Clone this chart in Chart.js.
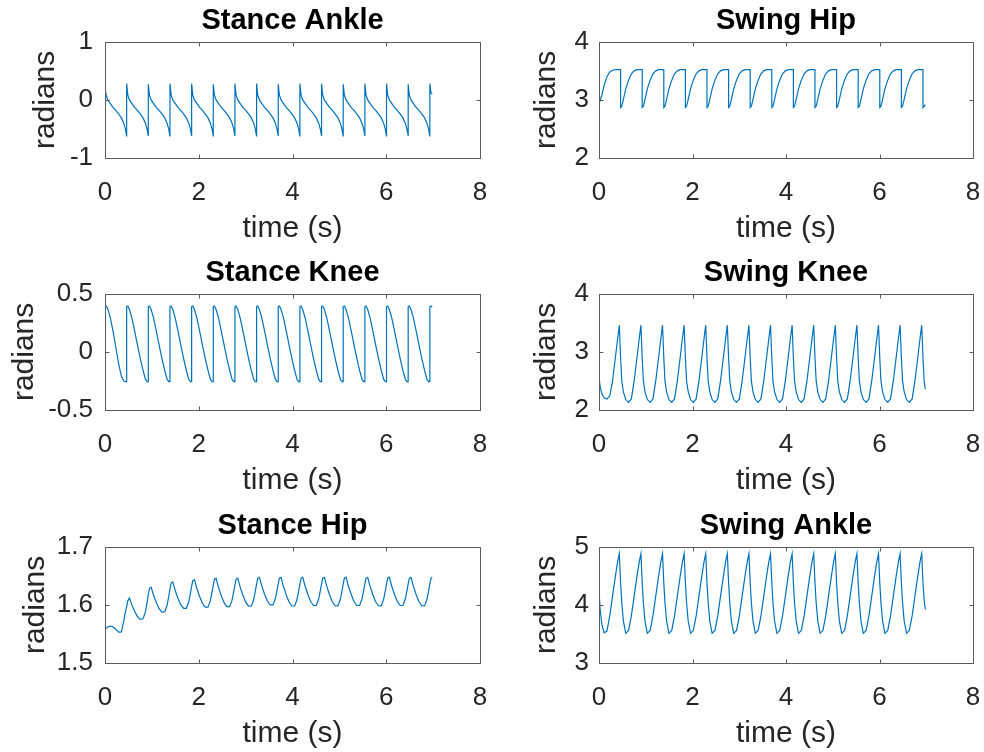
<!DOCTYPE html>
<html>
<head>
<meta charset="utf-8">
<script src="https://cdn.jsdelivr.net/npm/chart.js@4.4.1/dist/chart.umd.min.js"></script>
<style>
  html, body { margin: 0; padding: 0; background: #fff; overflow: hidden; width: 984px; height: 752px; }
  .panel { position: absolute; }
</style>
</head>
<body>
<div class="panel" style="left:0;top:0"><canvas id="stanceAnkle" width="492" height="247"></canvas></div>
<div class="panel" style="left:494px;top:0"><canvas id="swingHip" width="490" height="247"></canvas></div>
<div class="panel" style="left:0;top:252px"><canvas id="stanceKnee" width="492" height="247"></canvas></div>
<div class="panel" style="left:494px;top:252px"><canvas id="swingKnee" width="490" height="247"></canvas></div>
<div class="panel" style="left:0;top:505px"><canvas id="stanceHip" width="492" height="247"></canvas></div>
<div class="panel" style="left:494px;top:505px"><canvas id="swingAnkle" width="490" height="247"></canvas></div>
<script>
// sample times (s); a time written twice marks an impact (value before / after)
const time = [
  0, 0.025, 0.06, 0.11, 0.17, 0.23, 0.29, 0.35, 0.4, 0.435, 0.462,
  0.462, 0.487, 0.522, 0.572, 0.632, 0.692, 0.752, 0.812, 0.862, 0.897, 0.924,
  0.924, 0.949, 0.984, 1.034, 1.094, 1.154, 1.214, 1.274, 1.324, 1.359, 1.386,
  1.386, 1.411, 1.446, 1.496, 1.556, 1.616, 1.676, 1.736, 1.786, 1.821, 1.848,
  1.848, 1.873, 1.908, 1.958, 2.018, 2.078, 2.138, 2.198, 2.248, 2.283, 2.31,
  2.31, 2.335, 2.37, 2.42, 2.48, 2.54, 2.6, 2.66, 2.71, 2.745, 2.772,
  2.772, 2.797, 2.832, 2.882, 2.942, 3.002, 3.062, 3.122, 3.172, 3.207, 3.234,
  3.234, 3.259, 3.294, 3.344, 3.404, 3.464, 3.524, 3.584, 3.634, 3.669, 3.696,
  3.696, 3.721, 3.756, 3.806, 3.866, 3.926, 3.986, 4.046, 4.096, 4.131, 4.158,
  4.158, 4.183, 4.218, 4.268, 4.328, 4.388, 4.448, 4.508, 4.558, 4.593, 4.62,
  4.62, 4.645, 4.68, 4.73, 4.79, 4.85, 4.91, 4.97, 5.02, 5.055, 5.082,
  5.082, 5.107, 5.142, 5.192, 5.252, 5.312, 5.372, 5.432, 5.482, 5.517, 5.544,
  5.544, 5.569, 5.604, 5.654, 5.714, 5.774, 5.834, 5.894, 5.944, 5.979, 6.006,
  6.006, 6.031, 6.066, 6.116, 6.176, 6.236, 6.296, 6.356, 6.406, 6.441, 6.468,
  6.468, 6.493, 6.528, 6.578, 6.638, 6.698, 6.758, 6.818, 6.868, 6.903, 6.93,
  6.93, 6.955, 6.98
];

const stanceAnkle = [
  0.21, 0.08, 0.0, -0.06, -0.13, -0.18, -0.24, -0.31, -0.40, -0.50, -0.63,
  0.28, 0.08, 0.0, -0.06, -0.13, -0.18, -0.24, -0.31, -0.40, -0.50, -0.62,
  0.27, 0.08, 0.0, -0.06, -0.13, -0.18, -0.24, -0.31, -0.40, -0.50, -0.63,
  0.28, 0.08, 0.0, -0.06, -0.13, -0.18, -0.24, -0.31, -0.40, -0.50, -0.62,
  0.28, 0.08, 0.0, -0.06, -0.13, -0.18, -0.24, -0.31, -0.40, -0.50, -0.63,
  0.27, 0.08, 0.0, -0.06, -0.13, -0.18, -0.24, -0.31, -0.40, -0.50, -0.62,
  0.28, 0.08, 0.0, -0.06, -0.13, -0.18, -0.24, -0.31, -0.40, -0.50, -0.63,
  0.28, 0.08, 0.0, -0.06, -0.13, -0.18, -0.24, -0.31, -0.40, -0.50, -0.62,
  0.27, 0.08, 0.0, -0.06, -0.13, -0.18, -0.24, -0.31, -0.40, -0.50, -0.63,
  0.28, 0.08, 0.0, -0.06, -0.13, -0.18, -0.24, -0.31, -0.40, -0.50, -0.62,
  0.28, 0.08, 0.0, -0.06, -0.13, -0.18, -0.24, -0.31, -0.40, -0.50, -0.63,
  0.27, 0.08, 0.0, -0.06, -0.13, -0.18, -0.24, -0.31, -0.40, -0.50, -0.62,
  0.28, 0.08, 0.0, -0.06, -0.13, -0.18, -0.24, -0.31, -0.40, -0.50, -0.63,
  0.28, 0.08, 0.0, -0.06, -0.13, -0.18, -0.24, -0.31, -0.40, -0.50, -0.62,
  0.27, 0.08, 0.0, -0.06, -0.13, -0.18, -0.24, -0.31, -0.40, -0.50, -0.63,
  0.28, 0.12, 0.10
];

const stanceKnee = [
  0.40, 0.395, 0.37, 0.30, 0.18, 0.04, -0.10, -0.21, -0.25, -0.255, -0.255,
  0.39, 0.395, 0.365, 0.295, 0.18, 0.06, -0.055, -0.16, -0.235, -0.255, -0.255,
  0.39, 0.395, 0.365, 0.295, 0.18, 0.06, -0.055, -0.16, -0.235, -0.255, -0.255,
  0.39, 0.395, 0.365, 0.295, 0.18, 0.06, -0.055, -0.16, -0.235, -0.255, -0.255,
  0.39, 0.395, 0.365, 0.295, 0.18, 0.06, -0.055, -0.16, -0.235, -0.255, -0.255,
  0.39, 0.395, 0.365, 0.295, 0.18, 0.06, -0.055, -0.16, -0.235, -0.255, -0.255,
  0.39, 0.395, 0.365, 0.295, 0.18, 0.06, -0.055, -0.16, -0.235, -0.255, -0.255,
  0.39, 0.395, 0.365, 0.295, 0.18, 0.06, -0.055, -0.16, -0.235, -0.255, -0.255,
  0.39, 0.395, 0.365, 0.295, 0.18, 0.06, -0.055, -0.16, -0.235, -0.255, -0.255,
  0.39, 0.395, 0.365, 0.295, 0.18, 0.06, -0.055, -0.16, -0.235, -0.255, -0.255,
  0.39, 0.395, 0.365, 0.295, 0.18, 0.06, -0.055, -0.16, -0.235, -0.255, -0.255,
  0.39, 0.395, 0.365, 0.295, 0.18, 0.06, -0.055, -0.16, -0.235, -0.255, -0.255,
  0.39, 0.395, 0.365, 0.295, 0.18, 0.06, -0.055, -0.16, -0.235, -0.255, -0.255,
  0.39, 0.395, 0.365, 0.295, 0.18, 0.06, -0.055, -0.16, -0.235, -0.255, -0.255,
  0.39, 0.395, 0.365, 0.295, 0.18, 0.06, -0.055, -0.16, -0.235, -0.255, -0.255,
  0.39, 0.395, 0.385
];

const stanceHip = [
  1.559, 1.560, 1.562, 1.5635, 1.5625, 1.558, 1.553, 1.5535, 1.572, 1.588, 1.597,
  1.597, 1.607, 1.612, 1.600, 1.589, 1.580, 1.575, 1.576, 1.588, 1.604, 1.6175,
  1.6175, 1.6285, 1.6306, 1.6171, 1.6041, 1.5934, 1.5874, 1.5877, 1.5994, 1.6144, 1.6271,
  1.6271, 1.6377, 1.6395, 1.6253, 1.6116, 1.6003, 1.594, 1.5941, 1.6053, 1.6196, 1.6318,
  1.6318, 1.6418, 1.6435, 1.6287, 1.6144, 1.6027, 1.596, 1.5961, 1.6074, 1.6218, 1.6341,
  1.6341, 1.6443, 1.6459, 1.6307, 1.616, 1.6039, 1.5971, 1.5971, 1.6081, 1.6223, 1.6344,
  1.6344, 1.6444, 1.646, 1.631, 1.6166, 1.6048, 1.598, 1.5981, 1.6093, 1.6236, 1.6358,
  1.6358, 1.6458, 1.6475, 1.6327, 1.6184, 1.6067, 1.600, 1.600, 1.6108, 1.6245, 1.6363,
  1.6363, 1.646, 1.6474, 1.632, 1.6172, 1.605, 1.5981, 1.5981, 1.6093, 1.6236, 1.6358,
  1.6358, 1.6458, 1.6478, 1.6325, 1.6178, 1.6058, 1.599, 1.599, 1.6101, 1.6242, 1.6362,
  1.6362, 1.6462, 1.6476, 1.6322, 1.6175, 1.6053, 1.5985, 1.5984, 1.6096, 1.6238, 1.636,
  1.636, 1.646, 1.6478, 1.6325, 1.6178, 1.6058, 1.599, 1.599, 1.6101, 1.6242, 1.6362,
  1.6362, 1.6462, 1.6476, 1.6322, 1.6175, 1.6053, 1.5985, 1.5984, 1.6096, 1.6238, 1.636,
  1.636, 1.646, 1.6478, 1.6325, 1.6178, 1.6058, 1.599, 1.599, 1.6101, 1.6242, 1.6362,
  1.6362, 1.6462, 1.6476, 1.6322, 1.6175, 1.6053, 1.5985, 1.5984, 1.6096, 1.6238, 1.636,
  1.636, 1.6458, 1.6478
];

const swingHip = [
  2.94, 2.99, 3.08, 3.25, 3.40, 3.48, 3.51, 3.52, 3.52, 3.52, 3.52,
  2.87, 2.89, 3.01, 3.19, 3.34, 3.45, 3.50, 3.52, 3.52, 3.52, 3.52,
  2.87, 2.89, 3.01, 3.19, 3.34, 3.45, 3.50, 3.52, 3.52, 3.52, 3.52,
  2.87, 2.89, 3.01, 3.19, 3.34, 3.45, 3.50, 3.52, 3.52, 3.52, 3.52,
  2.87, 2.89, 3.01, 3.19, 3.34, 3.45, 3.50, 3.52, 3.52, 3.52, 3.52,
  2.87, 2.89, 3.01, 3.19, 3.34, 3.45, 3.50, 3.52, 3.52, 3.52, 3.52,
  2.87, 2.89, 3.01, 3.19, 3.34, 3.45, 3.50, 3.52, 3.52, 3.52, 3.52,
  2.87, 2.89, 3.01, 3.19, 3.34, 3.45, 3.50, 3.52, 3.52, 3.52, 3.52,
  2.87, 2.89, 3.01, 3.19, 3.34, 3.45, 3.50, 3.52, 3.52, 3.52, 3.52,
  2.87, 2.89, 3.01, 3.19, 3.34, 3.45, 3.50, 3.52, 3.52, 3.52, 3.52,
  2.87, 2.89, 3.01, 3.19, 3.34, 3.45, 3.50, 3.52, 3.52, 3.52, 3.52,
  2.87, 2.89, 3.01, 3.19, 3.34, 3.45, 3.50, 3.52, 3.52, 3.52, 3.52,
  2.87, 2.89, 3.01, 3.19, 3.34, 3.45, 3.50, 3.52, 3.52, 3.52, 3.52,
  2.87, 2.89, 3.01, 3.19, 3.34, 3.45, 3.50, 3.52, 3.52, 3.52, 3.52,
  2.87, 2.89, 3.01, 3.19, 3.34, 3.45, 3.50, 3.52, 3.52, 3.52, 3.52,
  2.87, 2.89, 2.92
];

const swingKnee = [
  2.56, 2.40, 2.28, 2.21, 2.19, 2.24, 2.50, 2.90, 3.24, 3.46, 2.90,
  2.90, 2.50, 2.31, 2.18, 2.13, 2.19, 2.50, 2.90, 3.24, 3.46, 2.90,
  2.90, 2.50, 2.31, 2.18, 2.13, 2.19, 2.50, 2.90, 3.24, 3.46, 2.90,
  2.90, 2.50, 2.31, 2.18, 2.13, 2.19, 2.50, 2.90, 3.24, 3.46, 2.90,
  2.90, 2.50, 2.31, 2.18, 2.13, 2.19, 2.50, 2.90, 3.24, 3.46, 2.90,
  2.90, 2.50, 2.31, 2.18, 2.13, 2.19, 2.50, 2.90, 3.24, 3.46, 2.90,
  2.90, 2.50, 2.31, 2.18, 2.13, 2.19, 2.50, 2.90, 3.24, 3.46, 2.90,
  2.90, 2.50, 2.31, 2.18, 2.13, 2.19, 2.50, 2.90, 3.24, 3.46, 2.90,
  2.90, 2.50, 2.31, 2.18, 2.13, 2.19, 2.50, 2.90, 3.24, 3.46, 2.90,
  2.90, 2.50, 2.31, 2.18, 2.13, 2.19, 2.50, 2.90, 3.24, 3.46, 2.90,
  2.90, 2.50, 2.31, 2.18, 2.13, 2.19, 2.50, 2.90, 3.24, 3.46, 2.90,
  2.90, 2.50, 2.31, 2.18, 2.13, 2.19, 2.50, 2.90, 3.24, 3.46, 2.90,
  2.90, 2.50, 2.31, 2.18, 2.13, 2.19, 2.50, 2.90, 3.24, 3.46, 2.90,
  2.90, 2.50, 2.31, 2.18, 2.13, 2.19, 2.50, 2.90, 3.24, 3.46, 2.90,
  2.90, 2.50, 2.31, 2.18, 2.13, 2.19, 2.50, 2.90, 3.24, 3.46, 2.90,
  2.90, 2.50, 2.36
];

const swingAnkle = [
  4.24, 3.92, 3.67, 3.52, 3.55, 3.81, 4.15, 4.49, 4.75, 4.88, 4.38,
  4.38, 4.04, 3.72, 3.51, 3.56, 3.81, 4.15, 4.49, 4.75, 4.88, 4.38,
  4.38, 4.04, 3.72, 3.51, 3.56, 3.81, 4.15, 4.49, 4.75, 4.88, 4.38,
  4.38, 4.04, 3.72, 3.51, 3.56, 3.81, 4.15, 4.49, 4.75, 4.88, 4.38,
  4.38, 4.04, 3.72, 3.51, 3.56, 3.81, 4.15, 4.49, 4.75, 4.88, 4.38,
  4.38, 4.04, 3.72, 3.51, 3.56, 3.81, 4.15, 4.49, 4.75, 4.88, 4.38,
  4.38, 4.04, 3.72, 3.51, 3.56, 3.81, 4.15, 4.49, 4.75, 4.88, 4.38,
  4.38, 4.04, 3.72, 3.51, 3.56, 3.81, 4.15, 4.49, 4.75, 4.88, 4.38,
  4.38, 4.04, 3.72, 3.51, 3.56, 3.81, 4.15, 4.49, 4.75, 4.88, 4.38,
  4.38, 4.04, 3.72, 3.51, 3.56, 3.81, 4.15, 4.49, 4.75, 4.88, 4.38,
  4.38, 4.04, 3.72, 3.51, 3.56, 3.81, 4.15, 4.49, 4.75, 4.88, 4.38,
  4.38, 4.04, 3.72, 3.51, 3.56, 3.81, 4.15, 4.49, 4.75, 4.88, 4.38,
  4.38, 4.04, 3.72, 3.51, 3.56, 3.81, 4.15, 4.49, 4.75, 4.88, 4.38,
  4.38, 4.04, 3.72, 3.51, 3.56, 3.81, 4.15, 4.49, 4.75, 4.88, 4.38,
  4.38, 4.04, 3.72, 3.51, 3.56, 3.81, 4.15, 4.49, 4.75, 4.88, 4.38,
  4.38, 4.08, 3.92
];

const xTicks = [0, 2, 4, 6, 8];

const FONT = "'Liberation Sans', Arial, sans-serif";
const LINE = "#0072BD";
const AXIS = "#262626";

// matlab style: closed box, short ticks pointing inwards on all four sides
const matlabBox = {
  id: "matlabBox",
  afterDatasetsDraw(chart) {
    const { ctx, chartArea: a, scales } = chart;
    const l = Math.round(a.left) + 0.5, r = Math.round(a.right) + 0.5;
    const t = Math.round(a.top) + 0.5, b = Math.round(a.bottom) + 0.5;
    ctx.save();
    ctx.strokeStyle = "#5a5a5a";
    ctx.lineWidth = 1;
    ctx.strokeRect(l, t, r - l, b - t);
    ctx.beginPath();
    scales.x.ticks.forEach(tk => {
      const px = Math.round(scales.x.getPixelForValue(tk.value)) + 0.5;
      ctx.moveTo(px, b); ctx.lineTo(px, b - 4);
      ctx.moveTo(px, t); ctx.lineTo(px, t + 4);
    });
    scales.y.ticks.forEach(tk => {
      const py = Math.round(scales.y.getPixelForValue(tk.value)) + 0.5;
      ctx.moveTo(l, py); ctx.lineTo(l + 4, py);
      ctx.moveTo(r, py); ctx.lineTo(r - 4, py);
    });
    ctx.stroke();
    ctx.restore();
  }
};

function makePanel(id, title, values, yMin, yMax, yStep, yTitlePad, padRight) {
  new Chart(document.getElementById(id), {
    type: "line",
    data: {
      datasets: [{
        data: time.map((t, i) => ({ x: t, y: values[i] })),
        borderColor: LINE,
        borderWidth: 1.2,
        pointRadius: 0,
        tension: 0,
        fill: false
      }]
    },
    options: {
      responsive: false,
      animation: false,
      layout: { padding: { left: 0, right: padRight, top: 0, bottom: 0 } },
      plugins: {
        legend: { display: false },
        tooltip: { enabled: false },
        title: {
          display: true,
          fullSize: false,
          text: title,
          color: "#000",
          font: { family: FONT, size: 29, weight: "bold" },
          padding: { top: 4, bottom: 3 }
        }
      },
      scales: {
        x: {
          type: "linear",
          min: 0,
          max: 8,
          grid: { display: false, drawTicks: false },
          border: { display: false },
          afterBuildTicks: s => { s.ticks = xTicks.map(v => ({ value: v })); },
          ticks: { color: AXIS, padding: 19, maxRotation: 0, font: { family: FONT, size: 26 } },
          title: {
            display: true,
            text: "time (s)",
            color: AXIS,
            font: { family: FONT, size: 30 },
            padding: { top: 0, bottom: 0 }
          },
          afterFit: s => { s.height = 89; s.paddingLeft = 0; s.paddingRight = 0; }
        },
        y: {
          min: yMin,
          max: yMax,
          grid: { display: false, drawTicks: false },
          border: { display: false },
          ticks: {
            stepSize: yStep,
            color: AXIS,
            padding: padRight === 12 ? 12 : 10,
            font: { family: FONT, size: 26 },
            callback: v => String(+v.toFixed(2))
          },
          title: {
            display: true,
            text: "radians",
            color: AXIS,
            font: { family: FONT, size: 30 },
            padding: { top: yTitlePad, bottom: 0 }
          },
          afterFit: s => { s.width = 105; s.paddingTop = 0; s.paddingBottom = 0; }
        }
      }
    },
    plugins: [matlabBox]
  });
}

makePanel("stanceAnkle", "Stance Ankle", stanceAnkle, -1, 1, 1, 27.5, 12);
makePanel("swingHip", "Swing Hip", swingHip, 2, 4, 1, 35, 11);
makePanel("stanceKnee", "Stance Knee", stanceKnee, -0.5, 0.5, 0.5, 7, 12);
makePanel("swingKnee", "Swing Knee", swingKnee, 2, 4, 1, 35, 11);
makePanel("stanceHip", "Stance Hip", stanceHip, 1.5, 1.7, 0.1, 18, 12);
makePanel("swingAnkle", "Swing Ankle", swingAnkle, 3, 5, 1, 35, 11);
</script>
</body>
</html>
